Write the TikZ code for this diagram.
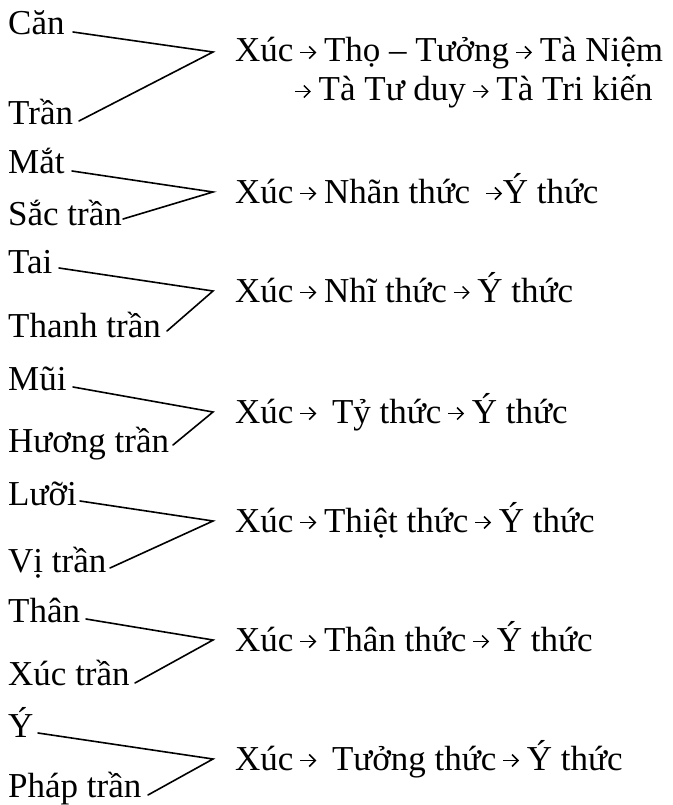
\documentclass[tikz,border=0pt]{standalone}
\usepackage{fontspec}
\setmainfont{Liberation Serif}
\usetikzlibrary{arrows.meta}
\newcommand{\arw}{\tikz[baseline=0pt]{\draw[line width=1.5pt,-{Straight Barb[length=6pt,width=12pt,line width=1.5pt]}] (0pt,9.5pt) -- (16pt,9.5pt);}}
\newcommand{\ar}{\hspace{6pt}\arw\hspace{7pt}}
\begin{document}
\begin{tikzpicture}[x=1pt,y=-1pt,
  lbl/.style={anchor=base west,inner sep=0pt,font=\fontsize{35}{40}\selectfont},
  conn/.style={line width=1.6pt,line cap=round}]
\useasboundingbox (0,0) rectangle (672,805);
% group 1
\node[lbl] (t1) at (8,35) {Căn};
\node[lbl] (b1) at (8,125) {Trần};
\node[lbl] (r1) at (235,62) {Xúc\ar Thọ – Tưởng\ar Tà Niệm};
\node[lbl] (r1b) at (294,101) {\arw\hspace{7pt}Tà Tư duy\ar Tà Tri kiến};
\coordinate (s1) at (73,32); \coordinate (a1) at (213,52); \coordinate (e1) at (79,121);
\draw[conn] (s1) -- (a1) -- (e1);
% group 2
\node[lbl] (t2) at (8,174) {Mắt};
\node[lbl] (b2) at (8,225) {Sắc trần};
\node[lbl] (r2) at (235,203) {Xúc\ar Nhãn thức\hspace{15pt}\arw Ý thức};
\coordinate (s2) at (72,171); \coordinate (a2) at (213,192); \coordinate (e2) at (123,219);
\draw[conn] (s2) -- (a2) -- (e2);
% group 3
\node[lbl] (t3) at (8,273) {Tai};
\node[lbl] (b3) at (8,337) {Thanh trần};
\node[lbl] (r3) at (235,302) {Xúc\ar Nhĩ thức\ar Ý thức};
\coordinate (s3) at (59,268); \coordinate (a3) at (213,291); \coordinate (e3) at (167,331);
\draw[conn] (s3) -- (a3) -- (e3);
% group 4
\node[lbl] (t4) at (8,390) {Mũi};
\node[lbl] (b4) at (8,452) {Hương trần};
\node[lbl] (r4) at (235,423) {Xúc\ar\hspace{8pt}Tỷ thức\ar Ý thức};
\coordinate (s4) at (73,387); \coordinate (a4) at (213,412); \coordinate (e4) at (173,445);
\draw[conn] (s4) -- (a4) -- (e4);
% group 5
\node[lbl] (t5) at (8,505) {Lưỡi};
\node[lbl] (b5) at (8,572) {Vị trần};
\node[lbl] (r5) at (235,532) {Xúc\ar Thiệt thức\ar Ý thức};
\coordinate (s5) at (80,501); \coordinate (a5) at (213,521); \coordinate (e5) at (110,568);
\draw[conn] (s5) -- (a5) -- (e5);
% group 6
\node[lbl] (t6) at (8,622) {Thân};
\node[lbl] (b6) at (8,685) {Xúc trần};
\node[lbl] (r6) at (235,651) {Xúc\ar Thân thức\ar Ý thức};
\coordinate (s6) at (86,619); \coordinate (a6) at (213,640); \coordinate (e6) at (135,683);
\draw[conn] (s6) -- (a6) -- (e6);
% group 7
\node[lbl] (t7) at (8,737) {Ý};
\node[lbl] (b7) at (8,797) {Pháp trần};
\node[lbl] (r7) at (235,770) {Xúc\ar\hspace{8pt}Tưởng thức\ar Ý thức};
\coordinate (s7) at (38,733); \coordinate (a7) at (213,759); \coordinate (e7) at (148,795);
\draw[conn] (s7) -- (a7) -- (e7);
\end{tikzpicture}
\end{document}
